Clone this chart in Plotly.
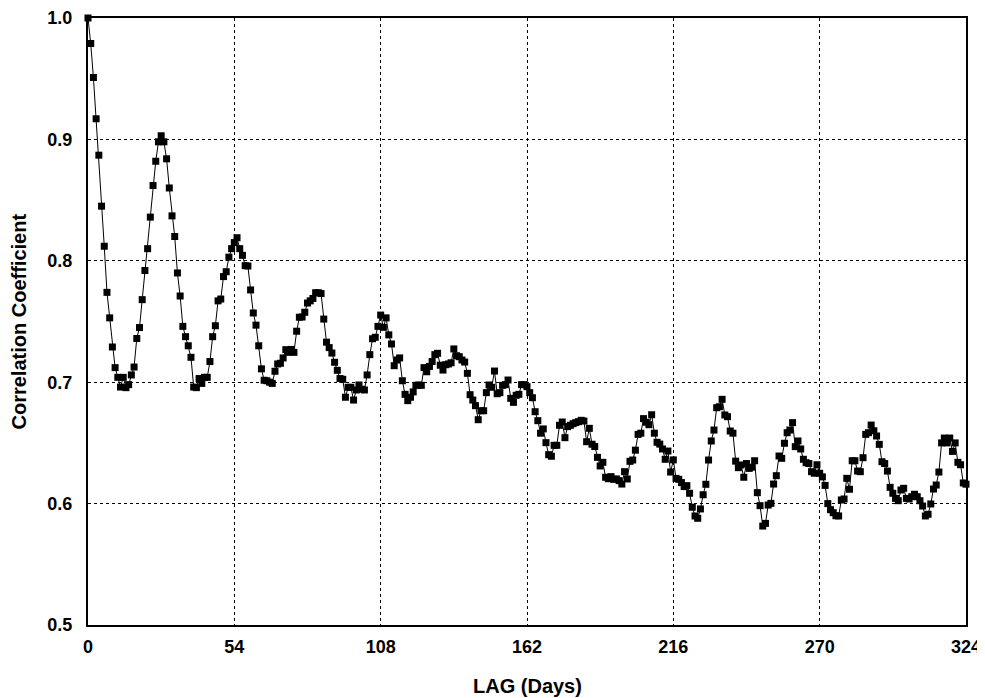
import plotly.graph_objects as go

lag_days = list(range(0, 325))
corr = [
    1.000, 0.979, 0.951, 0.917, 0.887, 0.845, 0.812, 0.774, 0.753, 0.729,
    0.712, 0.704, 0.696, 0.704, 0.6955, 0.698, 0.706, 0.7125, 0.736, 0.745,
    0.768, 0.792, 0.810, 0.836, 0.862, 0.882, 0.898, 0.903, 0.898, 0.884,
    0.860, 0.837, 0.820, 0.790, 0.771, 0.746, 0.7375, 0.730, 0.7205, 0.696,
    0.6955, 0.703, 0.699, 0.704, 0.704, 0.717, 0.7375, 0.7465, 0.767, 0.7685,
    0.787, 0.791, 0.803, 0.810, 0.815, 0.819, 0.810, 0.8045, 0.796, 0.7957,
    0.776, 0.757, 0.747, 0.730, 0.711, 0.7016, 0.7012, 0.700, 0.699, 0.709,
    0.715, 0.7156, 0.720, 0.7268, 0.7246, 0.727, 0.7246, 0.742, 0.7535, 0.7537,
    0.7576, 0.7652, 0.767, 0.769, 0.7737, 0.7737, 0.773, 0.752, 0.733, 0.7285,
    0.724, 0.7164, 0.7098, 0.703, 0.7024, 0.6876, 0.6958, 0.6958, 0.6853, 0.6936,
    0.6977, 0.6942, 0.6936, 0.706, 0.7227, 0.7358, 0.737, 0.746, 0.7553, 0.7452,
    0.753, 0.739, 0.7315, 0.7136, 0.7183, 0.720, 0.7012, 0.690, 0.6848, 0.6876,
    0.692, 0.6974, 0.6977, 0.6974, 0.712, 0.7086, 0.713, 0.717, 0.7227, 0.7238,
    0.714, 0.710, 0.7144, 0.715, 0.716, 0.7274, 0.7218, 0.721, 0.7183, 0.7166,
    0.7073, 0.6897, 0.6853, 0.6807, 0.6691, 0.6765, 0.6765, 0.6914, 0.6977, 0.6958,
    0.7092, 0.6905, 0.6914, 0.6974, 0.698, 0.7018, 0.6867, 0.6834, 0.6892, 0.690,
    0.698, 0.698, 0.6963, 0.6914, 0.6872, 0.6757, 0.6683, 0.658, 0.6615, 0.6502,
    0.6403, 0.639, 0.648, 0.648, 0.6645, 0.6672, 0.6543, 0.6634, 0.6645, 0.6658,
    0.6667, 0.6675, 0.6686, 0.668, 0.651, 0.662, 0.6489, 0.647, 0.6381, 0.631,
    0.634, 0.6217, 0.6205, 0.6222, 0.620, 0.6203, 0.6189, 0.6161, 0.6263, 0.6203,
    0.6348, 0.6359, 0.644, 0.657, 0.658, 0.670, 0.667, 0.665, 0.6732, 0.658,
    0.6505, 0.649, 0.645, 0.6365, 0.6433, 0.626, 0.636, 0.6208, 0.620, 0.6173,
    0.614, 0.6148, 0.6085, 0.597, 0.5898, 0.5879, 0.5956, 0.6073, 0.6159, 0.6359,
    0.6516, 0.6606, 0.679, 0.6798, 0.6859, 0.673, 0.6716, 0.6598, 0.658, 0.635,
    0.6296, 0.6318, 0.6217, 0.633, 0.629, 0.630, 0.6353, 0.609, 0.5983, 0.5815,
    0.5837, 0.5988, 0.6002, 0.6161, 0.623, 0.6392, 0.6373, 0.6497, 0.6584, 0.6606,
    0.6667, 0.6469, 0.6516, 0.645, 0.6365, 0.6337, 0.633, 0.6263, 0.625, 0.632,
    0.625, 0.622, 0.615, 0.600, 0.595, 0.5925, 0.590, 0.5898, 0.603, 0.6038,
    0.6208, 0.6118, 0.6353, 0.6353, 0.6268, 0.6263, 0.6378, 0.657, 0.6584, 0.6647,
    0.660, 0.6557, 0.6488, 0.6345, 0.633, 0.6268, 0.6134, 0.6085, 0.6043, 0.6024,
    0.6112, 0.6126, 0.6043, 0.6038, 0.6057, 0.6077, 0.6057, 0.6024, 0.598, 0.5898,
    0.5912, 0.5997, 0.612, 0.6153, 0.626, 0.650, 0.654, 0.650, 0.654, 0.643,
    0.650, 0.634, 0.632, 0.617, 0.616,
]

x_ticks = [0, 54, 108, 162, 216, 270, 324]
y_ticks = [0.5, 0.6, 0.7, 0.8, 0.9, 1.0]
y_tick_labels = ["0.5", "0.6", "0.7", "0.8", "0.9", "1.0"]
x_title = "LAG (Days)"
y_title = "Correlation Coefficient"

fig = go.Figure()
fig.add_trace(go.Scatter(
    x=lag_days, y=corr, mode="lines+markers",
    line=dict(color="black", width=1),
    marker=dict(symbol="square", size=7, color="black"),
    showlegend=False, cliponaxis=False,
))

font_family = "Liberation Sans, Arial, sans-serif"
tick_font = dict(family=font_family, size=18, color="black", weight="bold")
title_font = dict(family=font_family, size=20, color="black", weight="bold")
axis_common = dict(
    showline=True, linecolor="black", linewidth=2, mirror=True,
    showgrid=True, gridcolor="black", gridwidth=1, griddash="dot",
    zeroline=False, ticks="", automargin=False,
    tickfont=tick_font,
)

# the page body has an 8px margin, so the figure is sized/offset to compensate
fig.update_layout(
    width=977, height=690,
    margin=dict(l=80, r=19, t=10, b=73),
    paper_bgcolor="white", plot_bgcolor="white",
    xaxis=dict(range=[0, 324], tickvals=x_ticks, ticklabelstandoff=4, **axis_common),
    yaxis=dict(range=[0.5, 1.0], tickvals=y_ticks, ticktext=y_tick_labels,
               ticklabelstandoff=10, **axis_common),
    annotations=[
        dict(text=x_title, xref="paper", yref="paper", x=0.5, y=-0.1005,
             xanchor="center", yanchor="middle", showarrow=False, font=title_font),
        dict(text=y_title, xref="paper", yref="paper", x=-0.0786, y=0.5,
             xanchor="center", yanchor="middle", textangle=-90, showarrow=False,
             font=title_font),
    ],
)

fig.write_html("out.html")
